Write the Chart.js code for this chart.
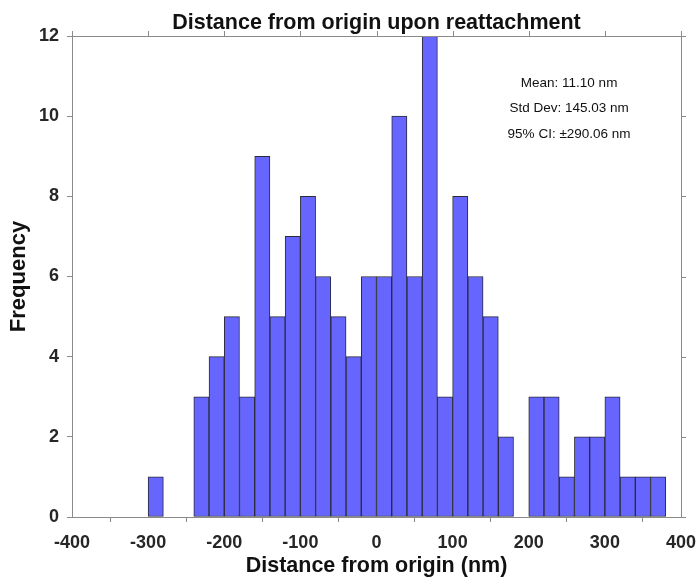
<!DOCTYPE html>
<html>
<head>
<meta charset="utf-8">
<script src="https://cdn.jsdelivr.net/npm/chart.js@4"></script>
<style>
  body { margin: 0; background: #fff; }
  #wrap { width: 697px; height: 578px; }
</style>
</head>
<body>
<div id="wrap"><canvas id="myChart" width="697" height="578"></canvas></div>
<script>
// histogram bins (width 20 nm), centres and counts
const binCenters = [-290, -270, -250, -230, -210, -190, -170, -150, -130, -110, -90, -70, -50, -30, -10,
                    10, 30, 50, 70, 90, 110, 130, 150, 170, 190, 210, 230, 250, 270, 290, 310, 330, 350, 370];
const counts = [1, 0, 0, 3, 4, 5, 3, 9, 5, 7, 8, 6, 5, 4, 6,
                6, 10, 6, 12, 3, 8, 6, 5, 2, 0, 3, 3, 1, 2, 2, 3, 1, 1, 1];
const xTicks = [-400, -300, -200, -100, 0, 100, 200, 300, 400];
const yTicks = [0, 2, 4, 6, 8, 10, 12];
const statLines = ['Mean: 11.10 nm', 'Std Dev: 145.03 nm', '95% CI: \u00b1290.06 nm'];
const statY = [10.83, 10.2, 9.55];
const statX = 253;

const FONT = '"Liberation Sans", Arial, Helvetica, sans-serif';
const AXIS = '#8a8a8a';

const points = binCenters.map((c, i) => ({ x: c, y: counts[i] }));

// box around the plot, with outward ticks on top and right, plus the stats text
const framePlugin = {
  id: 'frame',
  afterDraw(chart) {
    const { ctx, chartArea: a, scales } = chart;
    ctx.save();
    ctx.strokeStyle = AXIS;
    ctx.lineWidth = 1;
    ctx.beginPath();
    ctx.moveTo(a.left, a.top + 0.5);
    ctx.lineTo(a.right + 0.5, a.top + 0.5);
    ctx.lineTo(a.right + 0.5, a.bottom);
    xTicks.forEach(v => {
      const px = Math.round(scales.x.getPixelForValue(v)) + 0.5;
      ctx.moveTo(px, a.top);
      ctx.lineTo(px, a.top - 5);
    });
    yTicks.forEach(v => {
      const py = Math.round(scales.y.getPixelForValue(v)) + 0.5;
      ctx.moveTo(a.right, py);
      ctx.lineTo(a.right + 5, py);
    });
    ctx.stroke();

    ctx.fillStyle = '#111';
    ctx.font = '13.5px ' + FONT;
    ctx.textAlign = 'center';
    ctx.textBaseline = 'middle';
    statLines.forEach((t, i) => {
      ctx.fillText(t, scales.x.getPixelForValue(statX), scales.y.getPixelForValue(statY[i]));
    });
    ctx.restore();
  }
};

var ctx = document.getElementById('myChart').getContext('2d');
var myChart = new Chart(ctx, {
  type: 'bar',
  data: {
    datasets: [{
      data: points,
      backgroundColor: '#6666ff',
      borderColor: '#2a2a3a',
      borderWidth: 1,
      borderSkipped: false,
      barPercentage: 1,
      categoryPercentage: 1
    }]
  },
  options: {
    responsive: false,
    animation: false,
    layout: { padding: { left: 0, right: 16, top: 0, bottom: 0 } },
    plugins: {
      legend: { display: false },
      tooltip: { enabled: false },
      title: {
        display: true,
        fullSize: false,
        text: 'Distance from origin upon reattachment',
        color: '#111',
        font: { family: FONT, size: 21.5, weight: 'bold', lineHeight: 1.2 },
        padding: { top: 10.2, bottom: 0 }
      }
    },
    scales: {
      x: {
        type: 'linear',
        min: -400,
        max: 400,
        offset: false,
        afterBuildTicks: s => { s.ticks = xTicks.map(v => ({ value: v })); },
        afterFit: s => { s.height = 61; s.paddingLeft = 0; s.paddingRight = 16; },
        ticks: {
          color: '#262626',
          font: { family: FONT, size: 18, weight: 'bold' },
          padding: 10,
          maxRotation: 0
        },
        grid: { drawOnChartArea: false, drawTicks: true, tickLength: 5, color: AXIS },
        border: { color: AXIS },
        title: {
          display: true,
          text: 'Distance from origin (nm)',
          color: '#111',
          font: { family: FONT, size: 21.5, weight: 'bold', lineHeight: 1.2 },
          padding: { top: 0, bottom: -1 }
        }
      },
      y: {
        min: 0,
        max: 12,
        afterBuildTicks: s => { s.ticks = yTicks.map(v => ({ value: v })); },
        afterFit: s => { s.width = 72; },
        ticks: {
          color: '#262626',
          font: { family: FONT, size: 18, weight: 'bold' },
          padding: 8
        },
        grid: { drawOnChartArea: false, drawTicks: true, tickLength: 5, color: AXIS },
        border: { color: AXIS },
        title: {
          display: true,
          text: 'Frequency',
          color: '#111',
          font: { family: FONT, size: 22, weight: 'bold', lineHeight: 1.2 },
          padding: { top: 6, bottom: 0 }
        }
      }
    }
  },
  plugins: [framePlugin]
});
</script>
</body>
</html>
